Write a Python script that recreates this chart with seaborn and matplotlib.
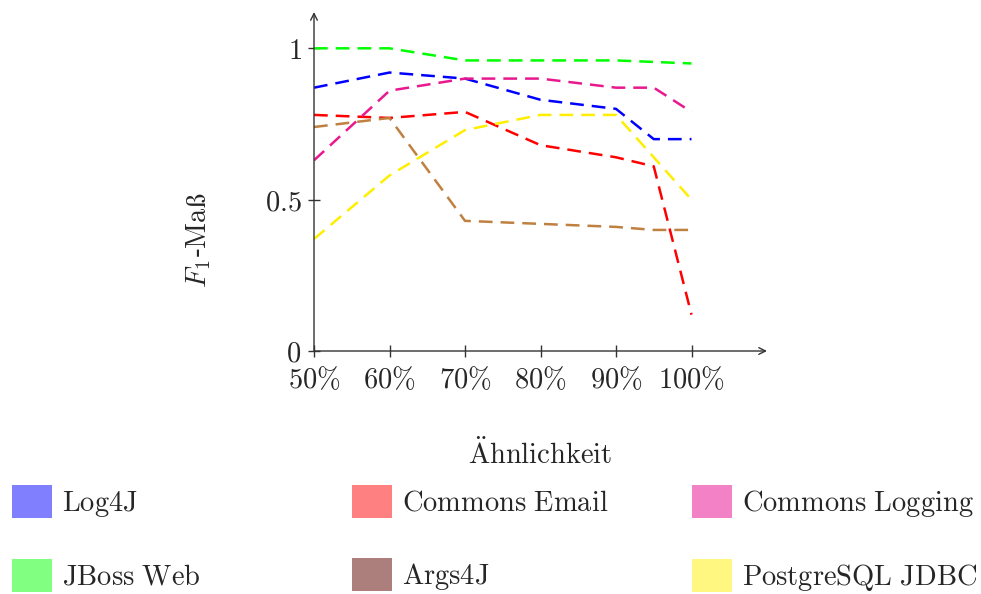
import numpy as np
import pandas as pd
import matplotlib
matplotlib.use("Agg")
import matplotlib.pyplot as plt
import seaborn as sns
from matplotlib.patches import Patch

sns.set_theme(style="white")
plt.rcParams['font.family'] = ['DejaVu Serif']
plt.rcParams['mathtext.fontset'] = 'cm'

# Daten (Ähnlichkeit in %, F1-Maß)
aehnlichkeit = [50, 60, 70, 80, 90, 95, 100]
log4j = [0.87, 0.92, 0.90, 0.83, 0.80, 0.70, 0.70]
commons_email = [0.78, 0.77, 0.79, 0.68, 0.64, 0.61, 0.12]
commons_logging = [0.63, 0.86, 0.90, 0.90, 0.87, 0.87, 0.79]
jboss_web = [1.00, 1.00, 0.96, 0.96, 0.96, np.nan, 0.95]
args4j = [0.74, 0.77, 0.43, 0.42, 0.41, 0.40, 0.40]
postgres_jdbc = [0.37, 0.58, 0.73, 0.78, 0.78, np.nan, 0.50]

namen = ["Log4J", "Commons Email", "Commons Logging",
         "JBoss Web", "Args4J", "PostgreSQL JDBC"]
werte = [log4j, commons_email, commons_logging, jboss_web, args4j, postgres_jdbc]
linien_farben = ["#0000ff", "#ff0000", "#e8188f", "#00ff00", "#bf8040", "#ffee00"]
legenden_farben = ["#8080ff", "#ff8080", "#f281c6", "#80ff80", "#ad7f7c", "#fff780"]

rows = []
for name, ys in zip(namen, werte):
    for x, y in zip(aehnlichkeit, ys):
        rows.append({"x": x, "y": y, "serie": name})
df = pd.DataFrame(rows).dropna()

fs = 20.5
fig = plt.figure(figsize=(9.81, 5.94), dpi=100)
ax = fig.add_axes([314 / 981, 1 - 351 / 594, 453 / 981, 339 / 594])

sns.lineplot(data=df, x="x", y="y", hue="serie", hue_order=namen,
             palette=dict(zip(namen, linien_farben)), ax=ax,
             legend=False, linewidth=1.8, dashes=False, linestyle=(0, (5.5, 3.2)))

ax.set_xlim(50, 110)
ax.set_ylim(0, 1.12)
for sp in ax.spines.values():
    sp.set_visible(False)

# Achsen mit Pfeilen
for ziel in [(1, 0), (0, 1)]:
    ax.annotate('', xy=ziel, xytext=(0, 0), xycoords='axes fraction',
                arrowprops=dict(arrowstyle='->', color='#333333', lw=1.0,
                                shrinkA=0, shrinkB=0), annotation_clip=False)

xticks = [50, 60, 70, 80, 90, 100]
ax.set_xticks(xticks)
ax.set_xticklabels([r'$%d\%%$' % t for t in xticks])
ax.set_yticks([0, 0.5, 1])
ax.set_yticklabels([r'$0$', r'$0.5$', r'$1$'])
ax.tick_params(axis='both', direction='inout', length=8, width=1.0,
               color='#333333', labelsize=fs)
ax.tick_params(axis='x', bottom=True, pad=7)
ax.tick_params(axis='y', left=True, pad=5)
ax.grid(False)

ax.set_xlabel(r'$\mathrm{\"Ahnlichkeit}$', fontsize=fs, va='top')
ax.xaxis.set_label_coords((540 - 314) / 453, -(438 - 351) / 339)
ax.set_ylabel(r'$F_1$-$\mathrm{Ma\ss}$', fontsize=fs)
ax.yaxis.set_label_coords(-(314 - 213) / 453, (351 - 240) / 339)

# Legende in drei Spalten
for col in range(3):
    idx = [col, col + 3]
    handles = [Patch(facecolor=legenden_farben[i], edgecolor='none') for i in idx]
    labels = [r'$\mathrm{%s}$' % namen[i].replace(' ', r'\ ') for i in idx]
    fig.legend(handles, labels, loc='upper left',
               bbox_to_anchor=([12, 352, 692][col] / 981, (594 - 485) / 594),
               frameon=False, fontsize=fs, handlelength=1.4, handleheight=1.4,
               handletextpad=0.35, labelspacing=1.4, borderpad=0,
               borderaxespad=0)

fig.savefig("out.png", dpi=100)
